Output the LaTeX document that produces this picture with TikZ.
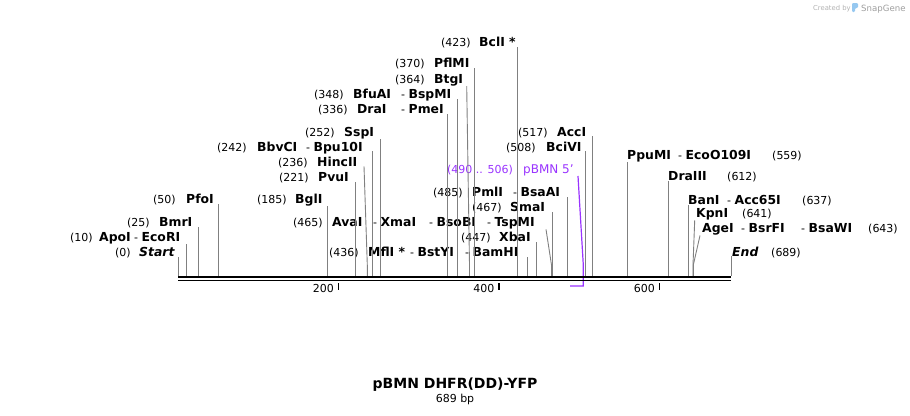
\documentclass[tikz,border=0pt]{standalone}
\usepackage{fontspec}
\setmainfont{DejaVu Sans}[ItalicFont={DejaVu Sans Oblique}, BoldFont={DejaVu Sans Bold}, BoldItalicFont={DejaVu Sans Bold Oblique}]
\definecolor{featpurple}{RGB}{153,51,255}
\definecolor{sitegray}{RGB}{128,128,128}
\definecolor{snapblue}{RGB}{150,200,240}
\newcommand{\enzfont}{\fontsize{12.4}{14}\selectfont\bfseries}

\begin{document}
\begin{tikzpicture}[
    x=1pt, y=-1pt,
    numlabel/.style={font=\fontsize{11}{13}\selectfont, inner sep=0pt, anchor=base west},
    enzlabel/.style={font=\enzfont, inner sep=0pt, anchor=base west},
    cutline/.style={draw=sitegray, line width=0.9pt},
    featline/.style={draw=featpurple, line width=1.2pt},
]
\useasboundingbox (0,0) rectangle (910,415);

% sites left of the middle
\node[numlabel] (n423) at (441,46.6) {(423)};
\node[enzlabel] (bcli) at (479,46.6) {BclI *};
\node[numlabel] (n370) at (395,67.6) {(370)};
\node[enzlabel] (pflmi) at (434,67.6) {PflMI};
\node[numlabel] (n364) at (395,83.3) {(364)};
\node[enzlabel] (btgi) at (434,83.3) {BtgI};
\node[numlabel] (n348) at (314,98.3) {(348)};
\node[enzlabel] (bfuai) at (353,98.3) {BfuAI};
\node[numlabel] (bspmi) at (401,98.3) {- {\enzfont BspMI}};
\node[numlabel] (n336) at (318,113.6) {(336)};
\node[enzlabel] (drai) at (357,113.6) {DraI};
\node[numlabel] (pmei) at (401,113.6) {- {\enzfont PmeI}};
\node[numlabel] (n252) at (305,136) {(252)};
\node[enzlabel] (sspi) at (344,136) {SspI};
\node[numlabel] (n242) at (217,151) {(242)};
\node[enzlabel] (bbvci) at (257,151) {BbvCI};
\node[numlabel] (bpuai) at (306,151) {- {\enzfont Bpu10I}};
\node[numlabel] (n236) at (278,166) {(236)};
\node[enzlabel] (hincii) at (317,166) {HincII};
\node[numlabel] (n221) at (279,181.6) {(221)};
\node[enzlabel] (pvui) at (318,181.6) {PvuI};
\node[numlabel] (n185) at (257,203.6) {(185)};
\node[enzlabel] (bgli) at (295,203.6) {BglI};
\node[numlabel] (n50) at (153,203.6) {(50)};
\node[enzlabel] (pfoi) at (186,203.6) {PfoI};
\node[numlabel] (n25) at (127,226.6) {(25)};
\node[enzlabel] (bmri) at (159,226.6) {BmrI};
\node[numlabel] (n10) at (70,241.6) {(10)};
\node[enzlabel] (apoi) at (99,241.6) {ApoI};
\node[numlabel] (ecori) at (134,241.6) {- {\enzfont EcoRI}};
\node[numlabel] (n0) at (115,256.6) {(0)};
\node[enzlabel, font=\enzfont\itshape] (start) at (139,256.6) {Start};

% sites in the middle
\node[numlabel] (n465) at (293,226.6) {(465)};
\node[enzlabel] (avai) at (332,226.6) {AvaI};
\node[numlabel] (xmai) at (373,226.6) {- {\enzfont XmaI}};
\node[numlabel] (bsobi) at (429,226.6) {- {\enzfont BsoBI}};
\node[numlabel] (tspmi) at (487,226.6) {- {\enzfont TspMI}};
\node[numlabel] (n436) at (329,256.6) {(436)};
\node[enzlabel] (mfli) at (368,256.6) {MflI *};
\node[numlabel] (bstyi) at (410,256.6) {- {\enzfont BstYI}};
\node[numlabel] (bamhi) at (465,256.6) {- {\enzfont BamHI}};
\node[numlabel] (n447) at (461,241.6) {(447)};
\node[enzlabel] (xbai) at (499,241.6) {XbaI};
\node[numlabel] (n467) at (472,211.6) {(467)};
\node[enzlabel] (smai) at (510,211.6) {SmaI};
\node[numlabel] (n485) at (433,196.6) {(485)};
\node[enzlabel] (pmli) at (472,196.6) {PmlI};
\node[numlabel] (bsaai) at (513,196.6) {- {\enzfont BsaAI}};
\node[numlabel, text=featpurple] (n490) at (447,173.3) {(490 .. 506)};
\node[numlabel, text=featpurple, font=\fontsize{12}{14}\selectfont] (pbmn) at (523,173.3) {pBMN 5'};
\node[numlabel] (n508) at (506,151) {(508)};
\node[enzlabel] (bcivi) at (546,151) {BciVI};
\node[numlabel] (n517) at (518,136) {(517)};
\node[enzlabel] (acci) at (557,136) {AccI};

% sites on the right
\node[enzlabel] (ppumi) at (627,159.3) {PpuMI};
\node[numlabel] (ecoo) at (678,159.3) {- {\enzfont EcoO109I}};
\node[numlabel] (n559) at (772,159.3) {(559)};
\node[enzlabel] (draiii) at (668,180.3) {DraIII};
\node[numlabel] (n612) at (727,180.3) {(612)};
\node[enzlabel] (bani) at (688,204.3) {BanI};
\node[numlabel] (acc65i) at (727,204.3) {- {\enzfont Acc65I}};
\node[numlabel] (n637) at (802,204.3) {(637)};
\node[enzlabel] (kpni) at (696,217.6) {KpnI};
\node[numlabel] (n641) at (742,217.6) {(641)};
\node[enzlabel] (agei) at (702,232.6) {AgeI};
\node[numlabel] (bsrfi) at (741,232.6) {- {\enzfont BsrFI}};
\node[numlabel] (bsawi) at (801,232.6) {- {\enzfont BsaWI}};
\node[numlabel] (n643) at (868,232.6) {(643)};
\node[enzlabel, font=\enzfont\itshape] (endlbl) at (732,256) {End};
\node[numlabel] (n689) at (771,256) {(689)};

% cut site lines
\foreach \x/\lbl in {178/start, 186/apoi, 198/bmri, 218/pfoi, 327/bgli, 355/pvui, 372/bbvci, 380/sspi, 447/drai, 457/bfuai, 474/pflmi, 517/bcli, 527.5/mfli, 536.5/xbai, 552.5/smai, 567.3/pmli, 585.5/bcivi, 592/acci, 627/ppumi, 668.3/draiii, 688.3/bani, 731/endlbl}
{
    \coordinate (ax-\lbl) at (\x,276);
    \draw[cutline] (ax-\lbl) -- (ax-\lbl |- \lbl.south);
}
\foreach \x/\tx/\lbl in {469.5/466.7/btgi, 367.3/364/hincii, 551.5/546/tspmi, 693/694.7/kpni, 693.3/700/agei}
{
    \coordinate (ax-\lbl) at (\x,276);
    \coordinate (kn-\lbl) at (\x,265);
    \coordinate (tp-\lbl) at (\tx,0);
    \draw[cutline] (ax-\lbl) -- (kn-\lbl) -- (tp-\lbl |- \lbl.south);
}

% feature
\coordinate (kn-pbmn) at (583.3,265);
\coordinate (tp-pbmn) at (578,0);
\coordinate (ft-end) at (583.3,286);
\coordinate (ft-start) at (570,286);
\draw[featline] (tp-pbmn |- pbmn.south) -- (kn-pbmn) -- (ft-end) -- (ft-start);

% sequence
\coordinate (seqstart) at (178,277.2);
\coordinate (seqend) at (731,277.2);
\draw[line width=2.3pt] (seqstart) -- (seqend);
\draw[line width=1.6pt] ([yshift=-3.2pt]seqstart) -- ([yshift=-3.2pt]seqend);

\foreach \bp/\x in {200/338.5, 400/499, 600/659.6}
{
    \coordinate (tk-\bp) at (\x,283);
    \draw[line width=1.4pt] (tk-\bp) -- ++(0,6.5);
    \node[numlabel, anchor=base east] (tl-\bp) at (\x-4.5,292.5) {\bp};
}

\node[font=\fontsize{14}{17}\selectfont\bfseries] (title) at (455,385) {pBMN DHFR(DD)-YFP};
\node[font=\fontsize{11}{13}\selectfont] (bplength) at (455,399) {689 bp};

\node[font=\fontsize{6.8}{8}\selectfont, text=black!30, inner sep=0pt, anchor=base west] (createdby) at (813,10) {Created by};
\fill[snapblue, rounded corners=1.2pt] (852,3) -- (858,3) -- (858,8) -- (855,8) -- (855,12) -- (852,12) -- cycle;
\node[font=\fontsize{8.6}{10}\selectfont, text=black!38, inner sep=0pt, anchor=base west] (snapgene) at (861,11) {SnapGene};

\end{tikzpicture}
\end{document}
